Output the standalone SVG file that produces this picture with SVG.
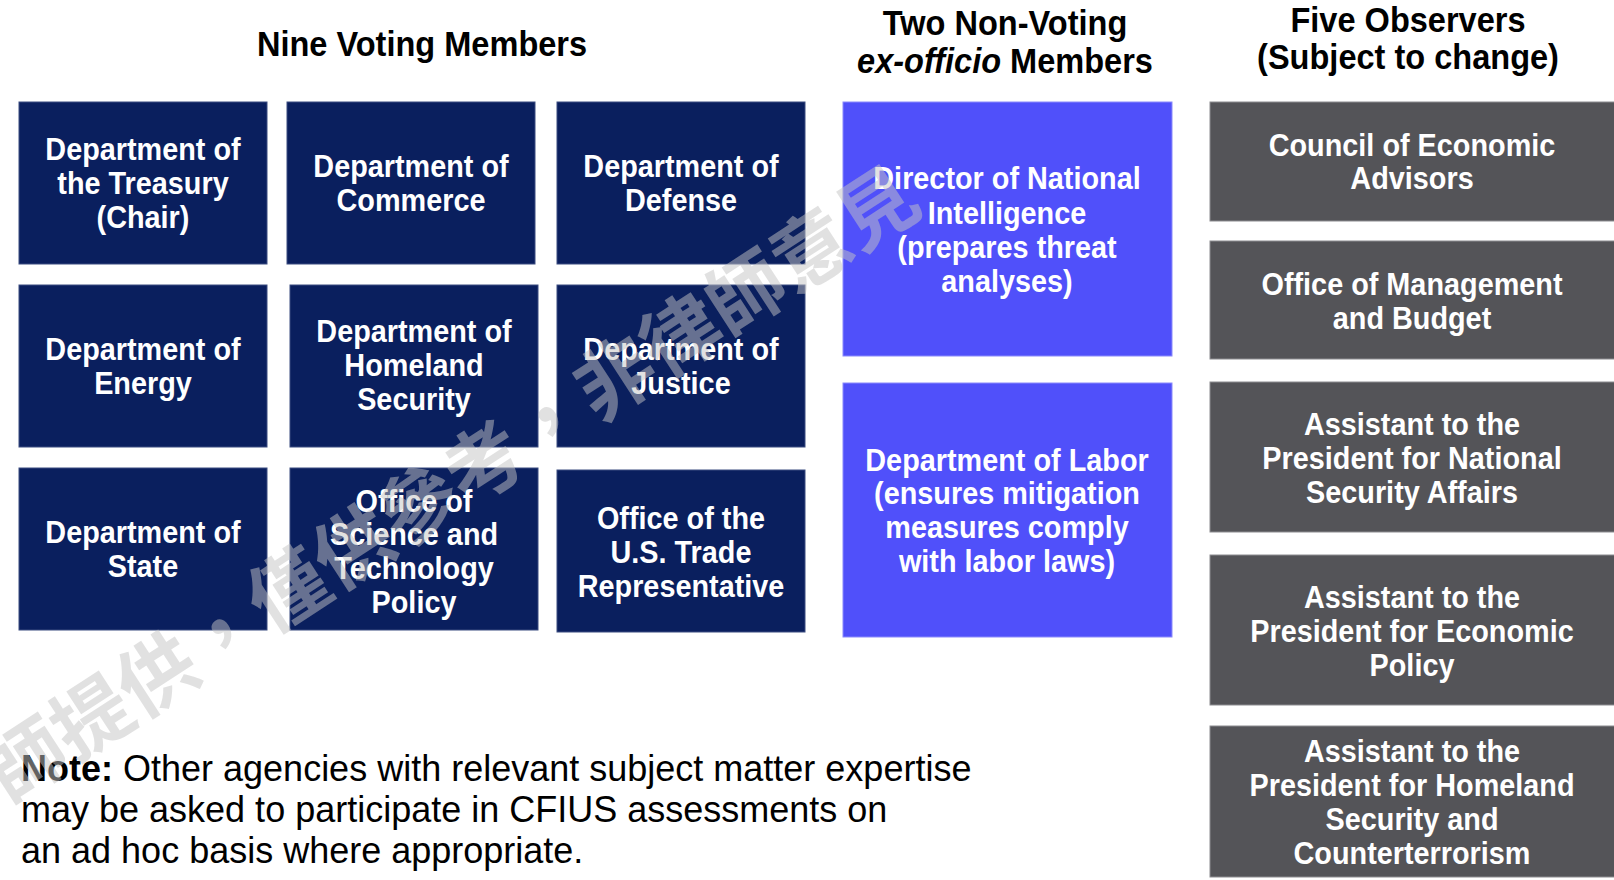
<svg xmlns="http://www.w3.org/2000/svg" width="1614" height="880" viewBox="0 0 1614 880">
<style>
.navy{fill:#0a1f5e;stroke:#3b4c80;stroke-width:1}
.blue{fill:#5050fa;stroke:#8a8afc;stroke-width:1}
.gray{fill:#545458;stroke:#8c8c90;stroke-width:1}
.bt{font-family:"Liberation Sans",Arial,sans-serif;font-weight:bold;font-size:31px;fill:#ffffff;text-anchor:middle}
.hd{font-family:"Liberation Sans",Arial,sans-serif;font-weight:bold;font-size:35px;fill:#000000;text-anchor:middle}
.note{font-family:"Liberation Sans",Arial,sans-serif;font-size:36px;fill:#000000}
.wm{font-family:"Noto Sans CJK TC","Noto Sans CJK SC",sans-serif;font-weight:bold;font-size:78px;fill:#c4c4c4;fill-opacity:0.5}
</style>
<rect width="1614" height="880" fill="#ffffff"/>

<g id="headers">
<text class="hd" transform="translate(422,0) scale(0.93,1)"><tspan x="0" y="56">Nine Voting Members</tspan></text>
<text class="hd" transform="translate(1005,0) scale(0.93,1)"><tspan x="0" y="35">Two Non-Voting</tspan><tspan x="0" y="73"><tspan font-style="italic">ex-officio</tspan> Members</tspan></text>
<text class="hd" transform="translate(1408,0) scale(0.93,1)"><tspan x="0" y="32">Five Observers</tspan><tspan x="0" y="69">(Subject to change)</tspan></text>
</g>

<g id="treasury">
<rect class="navy" x="19" y="102" width="248" height="162"/>
<text class="bt" transform="translate(143,0) scale(0.93,1)"><tspan x="0" y="160">Department of</tspan><tspan x="0" y="194">the Treasury</tspan><tspan x="0" y="228">(Chair)</tspan></text>
</g>
<g id="commerce">
<rect class="navy" x="287" y="102" width="248" height="162"/>
<text class="bt" transform="translate(411,0) scale(0.93,1)"><tspan x="0" y="177">Department of</tspan><tspan x="0" y="211">Commerce</tspan></text>
</g>
<g id="defense">
<rect class="navy" x="557" y="102" width="248" height="162"/>
<text class="bt" transform="translate(681,0) scale(0.93,1)"><tspan x="0" y="177">Department of</tspan><tspan x="0" y="211">Defense</tspan></text>
</g>
<g id="energy">
<rect class="navy" x="19" y="285" width="248" height="162"/>
<text class="bt" transform="translate(143,0) scale(0.93,1)"><tspan x="0" y="360">Department of</tspan><tspan x="0" y="394">Energy</tspan></text>
</g>
<g id="homeland">
<rect class="navy" x="290" y="285" width="248" height="162"/>
<text class="bt" transform="translate(414,0) scale(0.93,1)"><tspan x="0" y="342">Department of</tspan><tspan x="0" y="376">Homeland</tspan><tspan x="0" y="410">Security</tspan></text>
</g>
<g id="justice">
<rect class="navy" x="557" y="285" width="248" height="162"/>
<text class="bt" transform="translate(681,0) scale(0.93,1)"><tspan x="0" y="360">Department of</tspan><tspan x="0" y="394">Justice</tspan></text>
</g>
<g id="state">
<rect class="navy" x="19" y="468" width="248" height="162"/>
<text class="bt" transform="translate(143,0) scale(0.93,1)"><tspan x="0" y="543">Department of</tspan><tspan x="0" y="577">State</tspan></text>
</g>
<g id="ostp">
<rect class="navy" x="290" y="468" width="248" height="162"/>
<text class="bt" transform="translate(414,0) scale(0.93,1)"><tspan x="0" y="512">Office of</tspan><tspan x="0" y="545">Science and</tspan><tspan x="0" y="579">Technology</tspan><tspan x="0" y="613">Policy</tspan></text>
</g>
<g id="ustr">
<rect class="navy" x="557" y="470" width="248" height="162"/>
<text class="bt" transform="translate(681,0) scale(0.93,1)"><tspan x="0" y="529">Office of the</tspan><tspan x="0" y="563">U.S. Trade</tspan><tspan x="0" y="597">Representative</tspan></text>
</g>

<g id="dni">
<rect class="blue" x="843" y="102" width="329" height="254"/>
<text class="bt" transform="translate(1007,0) scale(0.93,1)"><tspan x="0" y="189">Director of National</tspan><tspan x="0" y="224">Intelligence</tspan><tspan x="0" y="258">(prepares threat</tspan><tspan x="0" y="292">analyses)</tspan></text>
</g>
<g id="labor">
<rect class="blue" x="843" y="383" width="329" height="254"/>
<text class="bt" transform="translate(1007,0) scale(0.93,1)"><tspan x="0" y="471">Department of Labor</tspan><tspan x="0" y="504">(ensures mitigation</tspan><tspan x="0" y="538">measures comply</tspan><tspan x="0" y="572">with labor laws)</tspan></text>
</g>

<g id="cea">
<rect class="gray" x="1210" y="102" width="410" height="119"/>
<text class="bt" transform="translate(1412,0) scale(0.93,1)"><tspan x="0" y="156">Council of Economic</tspan><tspan x="0" y="189">Advisors</tspan></text>
</g>
<g id="omb">
<rect class="gray" x="1210" y="241" width="410" height="118"/>
<text class="bt" transform="translate(1412,0) scale(0.93,1)"><tspan x="0" y="295">Office of Management</tspan><tspan x="0" y="329">and Budget</tspan></text>
</g>
<g id="nsa">
<rect class="gray" x="1210" y="382" width="410" height="150"/>
<text class="bt" transform="translate(1412,0) scale(0.93,1)"><tspan x="0" y="435">Assistant to the</tspan><tspan x="0" y="469">President for National</tspan><tspan x="0" y="503">Security Affairs</tspan></text>
</g>
<g id="econ">
<rect class="gray" x="1210" y="555" width="410" height="150"/>
<text class="bt" transform="translate(1412,0) scale(0.93,1)"><tspan x="0" y="608">Assistant to the</tspan><tspan x="0" y="642">President for Economic</tspan><tspan x="0" y="676">Policy</tspan></text>
</g>
<g id="hsct">
<rect class="gray" x="1210" y="726" width="410" height="151"/>
<text class="bt" transform="translate(1412,0) scale(0.93,1)"><tspan x="0" y="762">Assistant to the</tspan><tspan x="0" y="796">President for Homeland</tspan><tspan x="0" y="830">Security and</tspan><tspan x="0" y="864">Counterterrorism</tspan></text>
</g>

<g id="note">
<text class="note"><tspan x="21" y="781"><tspan font-weight="bold">Note:</tspan> Other agencies with relevant subject matter expertise</tspan><tspan x="21" y="822">may be asked to participate in CFIUS assessments on</tspan><tspan x="21" y="863">an ad hoc basis where appropriate.</tspan></text>
</g>

<g id="watermark">
<text class="wm" transform="translate(9,805) rotate(-33)">師提供，僅供參考，非律師意見</text>
</g>
</svg>
